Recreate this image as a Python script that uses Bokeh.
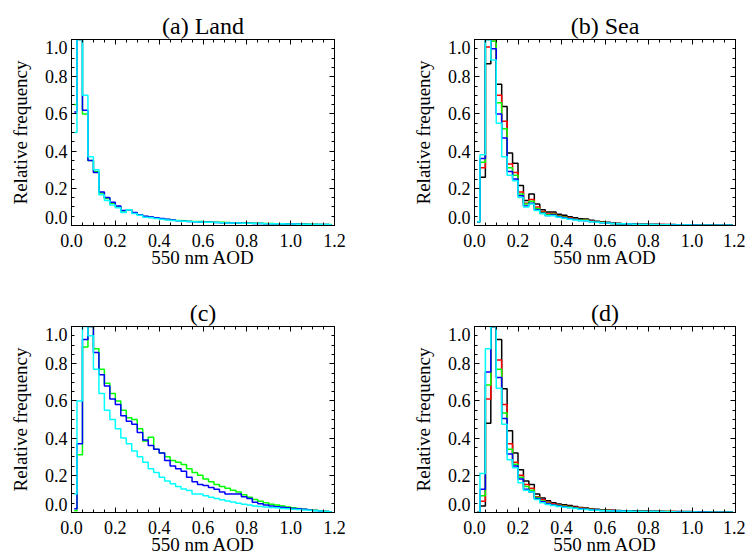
from bokeh.plotting import figure
from bokeh.models import (Range1d, LinearAxis, FixedTicker, PrintfTickFormatter,
                          CustomJSTickFormatter, CustomLabelingPolicy)
from bokeh.layouts import column, row
from bokeh.embed import file_html
from bokeh.resources import INLINE

FONT = "Liberation Serif, Times New Roman, DejaVu Serif, serif"

# ---- axis ticks ----
x_major = [0.0, 0.2, 0.4, 0.6, 0.8, 1.0, 1.2]
x_minor = [round(0.05 * i, 2) for i in range(25)]
y_major = [0.0, 0.2, 0.4, 0.6, 0.8, 1.0]
y_minor = [round(0.05 * i, 2) for i in range(21)]
# y tick-label anchor points: end labels nudged inside the frame
y_label_pos = [0.045, 0.2, 0.4, 0.6, 0.8, 0.955]

X_LABEL = "550 nm AOD"
Y_LABEL = "Relative frequency"

# ---- bin centres of the 0.025-wide AOD bins (0 .. 1.2) ----
bin_centers = [round(0.0125 + 0.025 * k, 4) for k in range(48)]

# ---- (a) Land ----
green_a = [0.65, 1.00, 0.60, 0.35, 0.29, 0.175, 0.145, 0.12, 0.10, 0.078,
           0.085, 0.068, 0.057, 0.048, 0.044, 0.040, 0.036, 0.032, 0.029, 0.027,
           0.025, 0.023, 0.022, 0.021, 0.020, 0.019, 0.018, 0.017, 0.016, 0.015,
           0.014, 0.013, 0.013, 0.012, 0.012, 0.011, 0.011, 0.010, 0.010, 0.009,
           0.009, 0.008, 0.008, 0.007, 0.007, 0.006, 0.006, 0.005]
blue_a = [0.61, 1.00, 0.62, 0.35, 0.285, 0.18, 0.15, 0.125, 0.105, 0.08,
          0.085, 0.07, 0.058, 0.05, 0.046, 0.042, 0.038, 0.033, 0.029, 0.026,
          0.023, 0.021, 0.020, 0.019, 0.018, 0.017, 0.016, 0.015, 0.014, 0.013,
          0.013, 0.012, 0.012, 0.011, 0.011, 0.010, 0.010, 0.009, 0.009, 0.008,
          0.008, 0.007, 0.007, 0.006, 0.006, 0.005, 0.005, 0.004]
cyan_a = [0.50, 1.00, 0.70, 0.37, 0.30, 0.165, 0.135, 0.11, 0.095, 0.07,
          0.085, 0.065, 0.055, 0.045, 0.042, 0.038, 0.034, 0.030, 0.027, 0.025,
          0.023, 0.021, 0.020, 0.019, 0.018, 0.017, 0.016, 0.015, 0.014, 0.013,
          0.013, 0.012, 0.012, 0.011, 0.011, 0.010, 0.010, 0.009, 0.009, 0.008,
          0.008, 0.007, 0.007, 0.006, 0.006, 0.005, 0.005, 0.004]

# ---- (b) Sea ----
black_b = [0.02, 0.26, 0.87, 1.00, 0.76, 0.64, 0.39, 0.335, 0.215, 0.135,
           0.17, 0.115, 0.085, 0.072, 0.072, 0.06, 0.055, 0.047, 0.042, 0.036,
           0.035, 0.028, 0.023, 0.020, 0.017, 0.014, 0.012, 0.010, 0.009, 0.008,
           0.007, 0.007, 0.006, 0.006, 0.005, 0.005, 0.005, 0.004, 0.004, 0.004,
           0.003, 0.003, 0.003, 0.003, 0.003, 0.002, 0.002, 0.002]
red_b = [0.02, 0.31, 0.96, 1.00, 0.70, 0.56, 0.33, 0.285, 0.18, 0.12,
         0.14, 0.10, 0.075, 0.062, 0.064, 0.053, 0.047, 0.041, 0.036, 0.031,
         0.030, 0.024, 0.020, 0.017, 0.015, 0.012, 0.010, 0.009, 0.008, 0.007,
         0.006, 0.006, 0.005, 0.005, 0.005, 0.004, 0.004, 0.004, 0.003, 0.003,
         0.003, 0.003, 0.003, 0.002, 0.002, 0.002, 0.002, 0.002]
green_b = [0.02, 0.34, 1.00, 0.99, 0.66, 0.52, 0.31, 0.27, 0.17, 0.115,
           0.13, 0.092, 0.07, 0.058, 0.06, 0.05, 0.044, 0.038, 0.034, 0.029,
           0.028, 0.022, 0.019, 0.016, 0.014, 0.011, 0.010, 0.009, 0.008, 0.007,
           0.006, 0.006, 0.005, 0.005, 0.004, 0.004, 0.004, 0.003, 0.003, 0.003,
           0.003, 0.003, 0.002, 0.002, 0.002, 0.002, 0.002, 0.002]
blue_b = [0.02, 0.36, 1.00, 0.95, 0.60, 0.47, 0.29, 0.25, 0.16, 0.105,
          0.12, 0.085, 0.066, 0.054, 0.056, 0.047, 0.041, 0.036, 0.032, 0.027,
          0.026, 0.021, 0.018, 0.015, 0.013, 0.011, 0.010, 0.009, 0.008, 0.007,
          0.006, 0.005, 0.005, 0.005, 0.004, 0.004, 0.004, 0.003, 0.003, 0.003,
          0.003, 0.002, 0.002, 0.002, 0.002, 0.002, 0.002, 0.002]
cyan_b = [0.02, 0.38, 1.00, 0.89, 0.55, 0.37, 0.27, 0.24, 0.15, 0.10,
          0.115, 0.08, 0.063, 0.052, 0.053, 0.045, 0.039, 0.034, 0.030, 0.026,
          0.025, 0.020, 0.017, 0.015, 0.013, 0.011, 0.010, 0.009, 0.008, 0.007,
          0.006, 0.005, 0.005, 0.004, 0.004, 0.004, 0.003, 0.003, 0.003, 0.003,
          0.002, 0.002, 0.002, 0.002, 0.002, 0.002, 0.002, 0.002]

# ---- (c) ----
green_c = [0.01, 0.31, 0.89, 1.00, 0.88, 0.77, 0.695, 0.64, 0.60, 0.55,
           0.51, 0.50, 0.45, 0.385, 0.405, 0.34, 0.32, 0.30, 0.28, 0.27,
           0.258, 0.235, 0.215, 0.20, 0.18, 0.165, 0.15, 0.14, 0.13, 0.12,
           0.11, 0.095, 0.082, 0.07, 0.06, 0.052, 0.045, 0.04, 0.035, 0.03,
           0.026, 0.022, 0.018, 0.015, 0.012, 0.009, 0.007, 0.004]
blue_c = [0.02, 0.37, 0.93, 1.00, 0.86, 0.74, 0.68, 0.61, 0.58, 0.52,
          0.49, 0.475, 0.43, 0.39, 0.36, 0.34, 0.32, 0.28, 0.25, 0.235,
          0.222, 0.19, 0.165, 0.15, 0.145, 0.135, 0.125, 0.11, 0.10, 0.10,
          0.10, 0.085, 0.075, 0.055, 0.047, 0.04, 0.035, 0.031, 0.028, 0.025,
          0.022, 0.02, 0.017, 0.014, 0.011, 0.008, 0.006, 0.004]
cyan_c = [0.10, 0.60, 1.00, 0.95, 0.77, 0.64, 0.55, 0.50, 0.45, 0.40,
          0.37, 0.33, 0.30, 0.27, 0.235, 0.215, 0.19, 0.17, 0.155, 0.14,
          0.127, 0.118, 0.10, 0.10, 0.09, 0.082, 0.075, 0.068, 0.062, 0.056,
          0.05, 0.045, 0.04, 0.035, 0.032, 0.03, 0.027, 0.025, 0.022, 0.02,
          0.018, 0.016, 0.014, 0.012, 0.01, 0.008, 0.006, 0.004]

# ---- (d) ----
black_d = [0.0, 0.035, 0.48, 1.00, 0.93, 0.665, 0.44, 0.32, 0.23, 0.17,
           0.15, 0.10, 0.078, 0.063, 0.052, 0.046, 0.042, 0.037, 0.032, 0.027,
           0.024, 0.02, 0.017, 0.015, 0.013, 0.012, 0.011, 0.010, 0.009, 0.009,
           0.008, 0.008, 0.007, 0.007, 0.006, 0.006, 0.006, 0.005, 0.005, 0.005,
           0.004, 0.004, 0.004, 0.004, 0.003, 0.003, 0.003, 0.003]
red_d = [0.0, 0.06, 0.61, 1.00, 0.82, 0.58, 0.37, 0.27, 0.20, 0.15,
         0.13, 0.085, 0.068, 0.055, 0.046, 0.04, 0.036, 0.032, 0.028, 0.024,
         0.021, 0.018, 0.015, 0.013, 0.012, 0.011, 0.010, 0.009, 0.008, 0.008,
         0.007, 0.007, 0.006, 0.006, 0.005, 0.005, 0.005, 0.004, 0.004, 0.004,
         0.004, 0.003, 0.003, 0.003, 0.003, 0.003, 0.002, 0.002]
green_d = [0.0, 0.09, 0.685, 1.00, 0.77, 0.535, 0.34, 0.26, 0.19, 0.14,
           0.12, 0.08, 0.062, 0.05, 0.042, 0.037, 0.033, 0.029, 0.025, 0.022,
           0.019, 0.016, 0.014, 0.012, 0.011, 0.010, 0.009, 0.008, 0.008, 0.007,
           0.007, 0.006, 0.006, 0.005, 0.005, 0.005, 0.004, 0.004, 0.004, 0.003,
           0.003, 0.003, 0.003, 0.003, 0.002, 0.002, 0.002, 0.002]
blue_d = [0.0, 0.125, 0.755, 1.00, 0.726, 0.505, 0.314, 0.25, 0.18, 0.125,
          0.11, 0.075, 0.058, 0.047, 0.04, 0.035, 0.031, 0.027, 0.023, 0.02,
          0.017, 0.015, 0.013, 0.011, 0.010, 0.009, 0.008, 0.008, 0.007, 0.007,
          0.006, 0.006, 0.005, 0.005, 0.005, 0.004, 0.004, 0.004, 0.003, 0.003,
          0.003, 0.003, 0.003, 0.002, 0.002, 0.002, 0.002, 0.002]
cyan_d = [0.0, 0.21, 0.88, 1.00, 0.668, 0.475, 0.283, 0.24, 0.16, 0.12,
          0.11, 0.07, 0.052, 0.043, 0.037, 0.032, 0.028, 0.025, 0.021, 0.018,
          0.016, 0.014, 0.012, 0.010, 0.009, 0.008, 0.008, 0.007, 0.007, 0.006,
          0.006, 0.005, 0.005, 0.005, 0.004, 0.004, 0.004, 0.003, 0.003, 0.003,
          0.003, 0.002, 0.002, 0.002, 0.002, 0.002, 0.002, 0.002]

COLORS = {"black": "#000000", "red": "#ff0000", "green": "#00ff00",
          "blue": "#0000ff", "cyan": "#00ffff"}

panels = [
    ("(a) Land", [("green", green_a), ("blue", blue_a), ("cyan", cyan_a)]),
    ("(b) Sea", [("black", black_b), ("red", red_b), ("green", green_b),
                 ("blue", blue_b), ("cyan", cyan_b)]),
    ("(c)", [("green", green_c), ("blue", blue_c), ("cyan", cyan_c)]),
    ("(d)", [("black", black_d), ("red", red_d), ("green", green_d),
             ("blue", blue_d), ("cyan", cyan_d)]),
]
for _, ss in panels:
    for _, s in ss:
        assert len(s) == len(bin_centers)

HIDE_ALL = "for (const i of Array.from(indices)) indices.unset(i)"


def base_axis(ax):
    ax.major_tick_out = 0
    ax.minor_tick_out = 0
    ax.major_tick_in = 5
    ax.minor_tick_in = 3
    ax.axis_line_color = "black"
    ax.axis_line_width = 1
    ax.major_tick_line_color = "black"
    ax.minor_tick_line_color = "black"
    ax.major_label_text_font = FONT
    ax.major_label_text_font_size = "18px"
    ax.major_label_text_font_style = "normal"
    ax.major_label_text_color = "black"
    ax.axis_label_text_font = FONT
    ax.axis_label_text_font_size = "19px"
    ax.axis_label_text_font_style = "normal"
    ax.axis_label_text_color = "black"


def tick_only_axis(major, minor):
    ax = LinearAxis(ticker=FixedTicker(ticks=major, minor_ticks=minor))
    base_axis(ax)
    ax.major_label_text_font_size = "0px"
    ax.major_label_standoff = 0
    ax.major_label_policy = CustomLabelingPolicy(code=HIDE_ALL)
    return ax


def make_panel(title, series, col, rowi):
    width = 409 if col == 0 else 336
    height = 295 if rowi == 0 else 265
    p = figure(width=width, height=height,
               x_range=Range1d(0, 1.2), y_range=Range1d(0, 1.0),
               output_backend="svg", toolbar_location=None,
               y_axis_location=None,
               min_border_left=(71 if col == 0 else 63),
               min_border_right=(75 if col == 0 else 10),
               min_border_top=(39 if rowi == 0 else 31),
               min_border_bottom=(70 if rowi == 0 else 48),
               title=title)
    p.title.align = "center"
    p.title.text_font = FONT
    p.title.text_font_size = "24px"
    p.title.text_font_style = "normal"
    p.title.text_color = "black"
    p.title.standoff = 2
    p.grid.visible = False
    p.outline_line_color = "black"
    p.background_fill_color = "white"
    p.border_fill_color = "white"

    # bottom axis with tick labels and axis label
    xb = p.xaxis[0]
    xb.ticker = FixedTicker(ticks=x_major, minor_ticks=x_minor)
    xb.formatter = PrintfTickFormatter(format="%.1f")
    base_axis(xb)
    xb.axis_label = X_LABEL
    xb.major_label_standoff = 8
    xb.axis_label_standoff = -3

    # left: tick marks on the frame, then a label-only axis
    p.add_layout(tick_only_axis(y_major, y_minor), "left")
    yl = LinearAxis(ticker=FixedTicker(ticks=y_label_pos, minor_ticks=[]))
    base_axis(yl)
    yl.major_tick_in = 0
    yl.minor_tick_in = 0
    yl.axis_line_color = None
    yl.formatter = CustomJSTickFormatter(
        code="return tick < 0.1 ? '0.0' : (tick > 0.9 ? '1.0' : tick.toFixed(1));")
    yl.axis_label = Y_LABEL
    yl.major_label_standoff = 4
    yl.axis_label_standoff = 11
    p.add_layout(yl, "left")

    # mirrored ticks on top and right
    p.add_layout(tick_only_axis(x_major, x_minor), "above")
    p.add_layout(tick_only_axis(y_major, y_minor), "right")

    for cname, vals in series:
        p.step(bin_centers, vals, mode="center", line_color=COLORS[cname],
               line_width=1.5)
    return p


figs = [make_panel(t, ss, i % 2, i // 2) for i, (t, ss) in enumerate(panels)]

layout = column(row(figs[0], figs[1]), row(figs[2], figs[3]))
open("out.html", "w").write(file_html(layout, INLINE))
